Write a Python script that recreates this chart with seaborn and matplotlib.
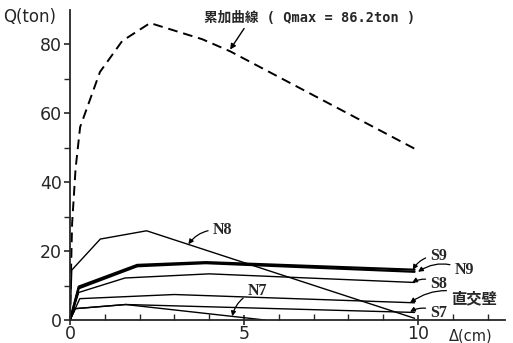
import matplotlib
matplotlib.use("Agg")
import matplotlib.pyplot as plt
import seaborn as sns

# data (x: displacement cm, y: load ton)
cum_x = [0, 0.03, 0.06, 0.16, 0.29, 0.86, 1.5, 2.3, 3.8, 4.6, 10]
cum_y = [0, 15, 28, 44, 56, 72, 81, 86.2, 81.5, 78, 49.2]

n8_x = [0, 0.05, 0.87, 2.2, 9.9]
n8_y = [0, 14.5, 23.5, 25.9, 0.5]

s9_x = [0, 0.25, 1.93, 3.9, 9.9]
s9_y = [0, 9.7, 16.0, 16.8, 14.6]

n9_x = [0, 0.25, 1.93, 3.9, 9.9]
n9_y = [0, 9.2, 15.6, 16.5, 14.0]

s8_x = [0, 0.25, 1.58, 4.0, 9.9]
s8_y = [0, 8.0, 12.2, 13.4, 10.9]

wall_x = [0, 0.28, 3.0, 9.9]
wall_y = [0, 6.2, 7.4, 5.0]

s7_x = [0, 0.15, 1.6, 9.9]
s7_y = [0, 3.3, 4.5, 2.2]

n7_x = [0, 0.15, 1.6, 5.6]
n7_y = [0, 3.3, 4.5, 0]

sns.set_style("ticks")
plt.rcParams['font.family'] = ['DejaVu Sans', 'Noto Sans CJK JP']

fig = plt.figure(figsize=(5.13, 3.43), dpi=100)
ax = fig.add_axes([0.1365, 0.067, 0.848, 0.904])

# solid curves
series = [(n8_x, n8_y, 1.0), (s9_x, s9_y, 1.6), (n9_x, n9_y, 1.6),
          (s8_x, s8_y, 1.0), (wall_x, wall_y, 1.0), (s7_x, s7_y, 1.0),
          (n7_x, n7_y, 1.0)]
for xs, ys, lw in series:
    sns.lineplot(x=xs, y=ys, ax=ax, color="black", linewidth=lw, sort=False,
                 estimator=None)

# cumulative curve (dashed)
sns.lineplot(x=cum_x, y=cum_y, ax=ax, color="black", linewidth=1.4,
             sort=False, estimator=None)
ax.lines[-1].set_dashes((5, 3))

ax.set_xlim(0, 12.5)
ax.set_ylim(0, 90)
sns.despine(ax=ax)
for sp in ax.spines.values():
    sp.set_linewidth(1.3)

ax.set_xticks([0, 5, 10])
ax.set_xticklabels(["0", "5", "10"])
ax.set_xticks(range(0, 13), minor=True)
ax.set_yticks([0, 20, 40, 60, 80])
ax.set_yticks(range(0, 90, 10), minor=True)
ax.tick_params(axis="x", which="major", direction="inout", length=7, width=1.2,
               labelsize=12.5, pad=0)
ax.tick_params(axis="x", which="minor", direction="in", length=4, width=1.0)
ax.tick_params(axis="y", which="major", direction="out", length=4, width=1.2,
               labelsize=12.5, pad=2)
ax.tick_params(axis="y", which="minor", direction="out", length=4, width=1.0)

ax.text(-0.4, 88, "Q(ton)", ha="right", va="center", fontsize=12,
        clip_on=False)
ax.text(11.5, -4.6, "Δ(cm)", ha="center", va="center", fontsize=10.5,
        clip_on=False)

# annotation of the cumulative curve
ax.annotate("累加曲線 ( Qmax = 86.2ton )", xy=(4.6, 78.5), xytext=(3.85, 87.6),
            ha="left", va="center", fontsize=9.8,
            family=['DejaVu Sans Mono', 'Noto Sans CJK JP'], weight="bold",
            arrowprops=dict(arrowstyle="-|>", color="black", lw=1.0,
                            mutation_scale=8, shrinkA=0, shrinkB=0,
                            relpos=(0.2, 0.0)))

lab = dict(family="Liberation Serif", weight="bold", fontsize=11.5,
           va="center", ha="left")
arrow = dict(arrowstyle="-|>", color="black", lw=0.9, mutation_scale=7,
             shrinkA=1, shrinkB=0, connectionstyle="arc3,rad=0.3")

ax.annotate("N8", xy=(3.4, 22.0), xytext=(4.1, 26.0), arrowprops=arrow, **lab)
ax.annotate("N7", xy=(4.66, 1.1), xytext=(5.1, 8.3), arrowprops=arrow, **lab)
ax.annotate("S9", xy=(9.85, 14.6), xytext=(10.35, 18.6), arrowprops=arrow,
            **lab)
ax.annotate("N9", xy=(10.0, 14.0), xytext=(11.05, 14.5), arrowprops=arrow,
            **lab)
ax.annotate("S8", xy=(9.83, 10.9), xytext=(10.35, 10.5), arrowprops=arrow,
            **lab)
ax.annotate("直交壁", xy=(9.77, 5.0), xytext=(10.95, 6.4), arrowprops=arrow,
            family="Noto Sans CJK JP", weight="bold", fontsize=11,
            va="center", ha="left")
ax.annotate("S7", xy=(9.77, 2.4), xytext=(10.35, 2.0), arrowprops=arrow,
            annotation_clip=False, **lab)

fig.savefig("out.png", dpi=100)
